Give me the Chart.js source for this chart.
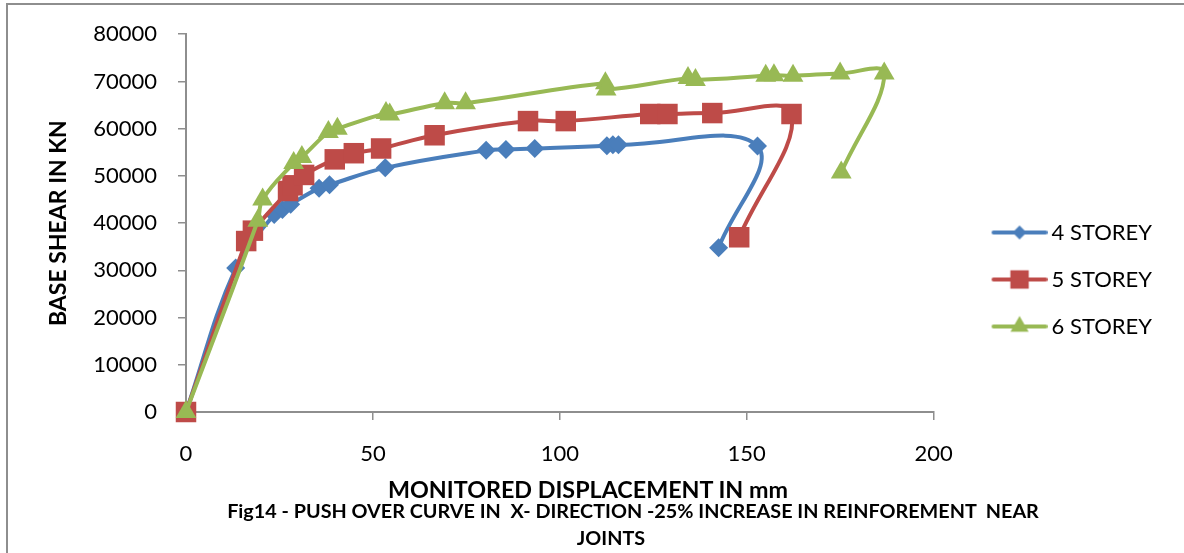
<!DOCTYPE html>
<html>
<head>
<meta charset="utf-8">
<script src="https://cdn.jsdelivr.net/npm/chart.js@4.4.0/dist/chart.umd.min.js"></script>
<style>
    html, body { margin: 0; padding: 0; background: #fff; }
    body { width: 1184px; height: 553px; position: relative; overflow: hidden; font-family: Lato, sans-serif; }
    #frame { position: absolute; left: 6px; top: 3px; width: 1300px; height: 700px;
             border-left: 2px solid #8e8e8e; border-top: 2px solid #8e8e8e; }
    #statisticsChart { position: absolute; left: 0; top: 0; }
    .lbl { position: absolute; font-weight: bold; color: #000; white-space: pre;
           transform: translateX(-50%); line-height: 1; }
</style>
</head>
<body>
<div id="frame"></div>
<canvas id="statisticsChart" width="1184" height="553"></canvas>
<div class="lbl" style="left:588px; top:478px; font-size:23.3px;">MONITORED DISPLACEMENT IN mm</div>
<div class="lbl" style="left:633px; top:501px; font-size:19.8px;">Fig14 - PUSH OVER CURVE IN  X- DIRECTION -25% INCREASE IN REINFOREMENT  NEAR</div>
<div class="lbl" style="left:611px; top:528px; font-size:19.8px;">JOINTS</div>

<script>
// values (displacement in mm, base shear in kN)
var disp4 = [0, 13.3, 23.6, 25.8, 28.0, 35.6, 38.4, 53.3, 80.3, 85.6, 93.3, 112.6, 114.2, 115.7, 152.9, 142.5];
var shear4 = [0, 30500, 41800, 42900, 44000, 47400, 48100, 51700, 55400, 55600, 55800, 56400, 56600, 56600, 56300, 34800];

var disp5 = [0, 16.1, 17.9, 27.3, 28.5, 31.6, 39.8, 44.9, 52.2, 66.5, 91.5, 101.6, 124.2, 128.8, 140.8, 162.0, 148.0];
var shear5 = [0, 36200, 38400, 46800, 48000, 50200, 53500, 54800, 55800, 58600, 61600, 61600, 63100, 63100, 63300, 63100, 37000];

var disp6 = [0, 19.2, 20.5, 28.8, 31.0, 38.1, 40.5, 53.5, 54.5, 69.2, 74.8, 112.2, 112.4, 134.3, 136.3, 155.1, 157.3, 162.4, 175.0, 186.8, 175.3];
var shear6 = [0, 40500, 45000, 52700, 54000, 59300, 60000, 63300, 63000, 65400, 65400, 69600, 68300, 70700, 70300, 71200, 71300, 71200, 71700, 71700, 50700];

var seriesLabels = ["4 STOREY", "5 STOREY", "6 STOREY"];
var seriesColors = ["#4A7EBB", "#BE4B48", "#98B954"];

var xTicks = [0, 50, 100, 150, 200];
var yTicks = [0, 10000, 20000, 30000, 40000, 50000, 60000, 70000, 80000];

function ToPoints(xs, ys) {
    return xs.map(function (x, i) { return { x: x, y: ys[i] }; });
}

// legend glyph: short line with the marker in the middle (like Excel)
function LegendGlyph(color, style, radius) {
    var shift = 20, w = 56, h = 30;
    var c = document.createElement("canvas");
    c.width = w + 2 * shift;
    c.height = h;
    var g = c.getContext("2d");
    g.strokeStyle = color;
    g.lineWidth = 4;
    g.lineCap = "round";
    g.beginPath();
    g.moveTo(2 * shift + 2, h / 2);
    g.lineTo(2 * shift + w - 2, h / 2);
    g.stroke();
    g.fillStyle = color;
    Chart.helpers.drawPoint(g, { pointStyle: style, radius: radius, borderWidth: 0 }, 2 * shift + w / 2, h / 2);
    return c;
}

var glyphs = [
    LegendGlyph(seriesColors[0], "rectRot", 7),
    LegendGlyph(seriesColors[1], "rect", 13),
    LegendGlyph(seriesColors[2], "triangle", 10.5)
];

Chart.defaults.font.family = "Lato, sans-serif";
Chart.defaults.color = "#000";

var axisGray = "#8e8e8e";
var padBottom = 14;

var ctx = document.getElementById("statisticsChart").getContext("2d");
var myChart = new Chart(ctx, {
    type: "line",
    data: {
        datasets: [
            {
                label: seriesLabels[0],
                data: ToPoints(disp4, shear4),
                borderColor: seriesColors[0],
                backgroundColor: seriesColors[0],
                pointStyle: "rectRot",
                pointRadius: 9.5,
                clip: false,
                order: 3
            },
            {
                label: seriesLabels[1],
                data: ToPoints(disp5, shear5),
                borderColor: seriesColors[1],
                backgroundColor: seriesColors[1],
                pointStyle: "rect",
                pointRadius: 14.5,
                clip: false,
                order: 2
            },
            {
                label: seriesLabels[2],
                data: ToPoints(disp6, shear6),
                borderColor: seriesColors[2],
                backgroundColor: seriesColors[2],
                pointStyle: "triangle",
                pointRadius: 12,
                clip: false,
                order: 1
            }
        ]
    },
    options: {
        responsive: false,
        animation: false,
        layout: {
            padding: { top: 20, right: 22, bottom: padBottom, left: 0 }
        },
        elements: {
            line: {
                tension: 0.4,  // smooth lines
                borderWidth: 4,
                fill: false
            },
            point: {
                borderWidth: 0,
                hoverRadius: 0
            }
        },
        scales: {
            x: {
                type: "linear",
                min: 0,
                max: 200,
                afterBuildTicks: function (scale) {
                    scale.ticks = xTicks.map(function (v) { return { value: v }; });
                },
                afterFit: function (scale) {
                    scale.height = 553 - 412 - padBottom;
                },
                ticks: {
                    font: { size: 22 },
                    padding: 21,
                    maxRotation: 0
                },
                grid: {
                    drawOnChartArea: false,
                    drawTicks: true,
                    tickLength: 8,
                    color: axisGray,
                    lineWidth: 1.5
                },
                border: { color: axisGray, width: 2 }
            },
            y: {
                min: 0,
                max: 80000,
                afterBuildTicks: function (scale) {
                    scale.ticks = yTicks.map(function (v) { return { value: v }; });
                },
                afterFit: function (scale) {
                    scale.width = 186;
                },
                ticks: {
                    font: { size: 22 },
                    padding: 21,
                    callback: function (v) { return String(v); }
                },
                grid: {
                    drawOnChartArea: false,
                    drawTicks: true,
                    tickLength: 8,
                    color: axisGray,
                    lineWidth: 1.5
                },
                border: { color: axisGray, width: 2 },
                title: {
                    display: true,
                    text: "BASE SHEAR IN KN",
                    font: { size: 23, weight: "bold" },
                    padding: { top: 45, bottom: 0 }
                }
            }
        },
        plugins: {
            tooltip: { enabled: false },
            legend: {
                position: "right",
                labels: {
                    usePointStyle: true,
                    pointStyleWidth: 82,
                    padding: 25,
                    font: { size: 22 },
                    color: "#000",
                    generateLabels: function (chart) {
                        var items = Chart.defaults.plugins.legend.labels.generateLabels(chart);
                        items.sort(function (a, b) { return a.datasetIndex - b.datasetIndex; });
                        items.forEach(function (it) {
                            it.pointStyle = glyphs[it.datasetIndex];
                            it.lineWidth = 0;
                        });
                        return items;
                    }
                }
            }
        }
    }
});
</script>
</body>
</html>
